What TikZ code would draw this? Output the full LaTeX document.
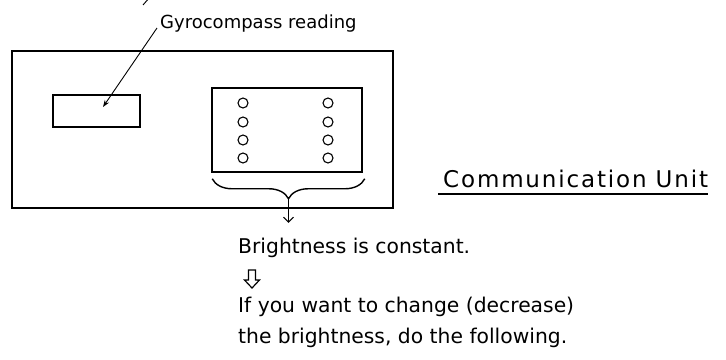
\documentclass[tikz,border=0pt]{standalone}
\usepackage{fontspec}
\setmainfont{DejaVu Sans}
\newfontfamily\widefont[LetterSpace=8]{DejaVu Sans}
\usetikzlibrary{positioning, arrows.meta, calc, decorations.pathreplacing}

\begin{document}
\begin{tikzpicture}[x=1pt, y=-1pt, >={Stealth[length=7pt, width=5pt]},
  box/.style={draw, rectangle, line width=1.5pt, inner sep=0pt},
  lamp/.style={draw, circle, line width=1.1pt, minimum size=10pt, inner sep=0pt},
  txt/.style={font=\fontsize{20.3}{31}\selectfont, inner sep=0pt, anchor=base west}]
  \useasboundingbox (0,0) rectangle (726,359);
  % housing and its two windows
  \node[box, line width=1.9pt, minimum width=381pt, minimum height=157pt] (unit) at (202.5,129.5) {};
  \node[box, minimum width=87pt, minimum height=32pt] (display) at (96.5,111) {};
  \node[box, minimum width=150pt, minimum height=84pt] (panel) at (287,130) {};
  \foreach \y [count=\i] in {103,122,140,158} {
    \node[lamp] (l\i) at (243,\y) {};
    \node[lamp] (r\i) at (328,\y) {};
  }

  \node[txt, font=\fontsize{18}{22}\selectfont] (gyro) at (160,28) {Gyrocompass reading};
  \node[txt, font=\fontsize{23}{26}\widefont] (comm) at (443,187) {Communication Unit};
  \node[txt] (const) at (238,253) {Brightness is constant.};
  \coordinate (then) at (252,270);
  \node[txt] (want) at (238,312) {If you want to change (decrease)};
  \node[txt] (follow) at ([yshift=-31pt]want.base west) {the brightness, do the following.};

  \draw[->, line width=0.9pt] ([shift={(-3,0)}]gyro.base west) -- ([shift={(6.5,-4)}]display.center);
  \draw[line width=0.9pt] (143,5) -- (150,-3);
  \draw[line width=1.4pt, decorate, decoration={brace, amplitude=20pt}]
    ([shift={(2,6)}]panel.south east) -- ([shift={(1,6)}]panel.south west);
  \coordinate (bracetip) at ($(panel.south)+(1.5,26)$);
  \coordinate (arrowend) at ($(bracetip)+(0,24)$);
  \draw[-{Straight Barb[length=5pt]}, line width=0.9pt] (bracetip) -- (arrowend);
  \draw[line width=1.1pt] ([shift={(-5,7)}]comm.base west) -- ([shift={(0,7)}]comm.base east);
  % hollow down arrow between the lines
  \draw[line width=1.2pt, line join=miter] (then) ++(-3.5,0) -- ++(7,0) -- ++(0,10) -- ++(4,0)
    -- ++(-7.5,8) -- ++(-7.5,-8) -- ++(4,0) -- cycle;
\end{tikzpicture}
\end{document}
